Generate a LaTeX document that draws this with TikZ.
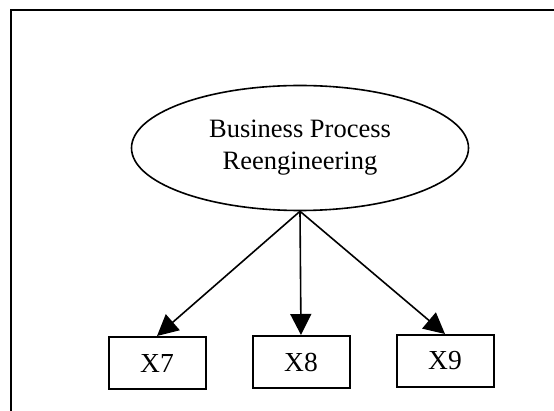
\documentclass[tikz,border=0pt]{standalone}
\usepackage{fontspec}
\setmainfont{Liberation Serif}
\usetikzlibrary{arrows.meta,shapes.geometric}
\begin{document}
\begin{tikzpicture}[x=1pt,y=-1pt,
  frame/.style={line width=2pt},
  latent/.style={draw,ellipse,line width=1.6pt,minimum width=337pt,minimum height=125pt,inner sep=0pt,align=center,font=\fontsize{26.5}{32}\selectfont},
  obs/.style={draw,rectangle,line width=2pt,minimum width=97pt,minimum height=52pt,inner sep=0pt,font=\fontsize{27.5}{32}\selectfont},
  link/.style={line width=1.6pt,-{Triangle[length=21pt,width=21pt]}}]
\useasboundingbox (0,0) rectangle (554,411);
\coordinate (ftop) at (554,10);
\coordinate (fcorner) at (11,10);
\coordinate (fbot) at (11,411);
\draw[frame] (ftop) -- (fcorner) -- (fbot);
\node[latent] (bpr) at (300,148) {Business Process\\Reengineering};
\node[obs] (x7) at (157,363) {X7};
\node[obs] (x8) at (301,362) {X8};
\node[obs] (x9) at (445,361) {X9};
\draw[link] (bpr.south) -- (x7.north);
\draw[link] (bpr.south) -- (x8.north);
\draw[link] (bpr.south) -- (x9.north);
\end{tikzpicture}
\end{document}
